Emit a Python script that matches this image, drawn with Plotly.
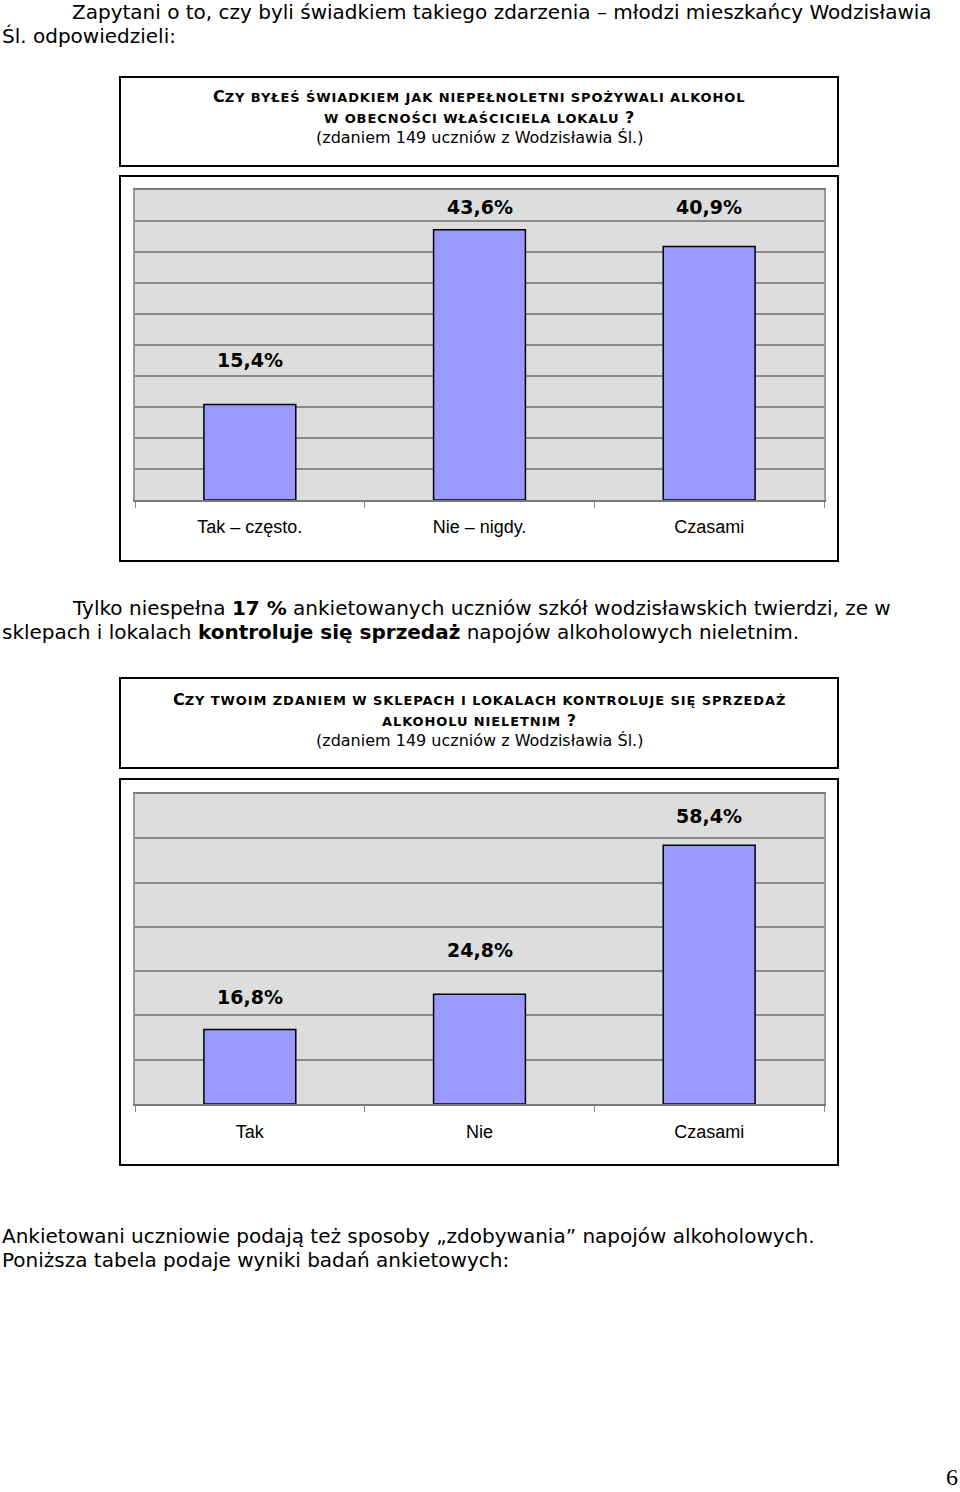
import plotly.graph_objects as go

W, H = 960, 1492

# ---- data ----
cats1 = ["Tak – często.", "Nie – nigdy.", "Czasami"]
vals1 = [15.4, 43.6, 40.9]
label_y1 = [22.6, 47.3, 47.3]

cats2 = ["Tak", "Nie", "Czasami"]
vals2 = [16.8, 24.8, 58.4]
label_y2 = [24.1, 34.7, 65.0]

BODY_FONT = "DejaVu Sans, Verdana"
ARIAL = "Liberation Sans, Arial"
BAR_COLOR = "#9999FF"
PLOT_BG = "#DDDDDD"
GRID = "#8A8A8A"


def px(x):
    return x / W


def py(y):
    return 1 - y / H


def fmt(v):
    return f"{v:.1f}".replace(".", ",") + "%"


fig = go.Figure()
fig.add_trace(go.Bar(x=cats1, y=vals1, xaxis="x", yaxis="y",
                     marker=dict(color=BAR_COLOR, line=dict(color="black", width=1.5)),
                     showlegend=False, hoverinfo="skip"))
fig.add_trace(go.Bar(x=cats2, y=vals2, xaxis="x2", yaxis="y2",
                     marker=dict(color=BAR_COLOR, line=dict(color="black", width=1.5)),
                     showlegend=False, hoverinfo="skip"))


def xax(standoff, anchor):
    return dict(domain=[px(135), px(824)], anchor=anchor,
                showline=True, linecolor="#7A7A7A", linewidth=1.5, mirror=True,
                ticks="outside", tickson="boundaries", ticklen=6, tickcolor="#8A8A8A",
                showgrid=False, ticklabelstandoff=standoff,
                tickfont=dict(family=ARIAL, size=18, color="black"))


ycommon = dict(showline=True, linecolor="#9A9A9A", linewidth=1.5, mirror=True,
               showticklabels=False, ticks="", showgrid=True, gridcolor=GRID,
               gridwidth=1.5, zeroline=False, fixedrange=True)

fig.update_layout(
    width=W, height=H, margin=dict(l=0, r=0, t=0, b=0),
    paper_bgcolor="white", plot_bgcolor=PLOT_BG, bargap=0.6,
    xaxis=xax(10, "y"),
    yaxis=dict(domain=[py(500), py(190)], anchor="x", range=[0, 50], dtick=5, **ycommon),
    xaxis2=xax(11, "y2"),
    yaxis2=dict(domain=[py(1104), py(794)], anchor="x2", range=[0, 70], dtick=10, **ycommon),
)

ann = []
# bar value labels
for c, v, ly in zip(cats1, vals1, label_y1):
    ann.append(dict(x=c, y=ly, xref="x", yref="y", text=f"<b>{fmt(v)}</b>", showarrow=False,
                    font=dict(family=BODY_FONT, size=19, color="black"), yanchor="middle"))
for c, v, ly in zip(cats2, vals2, label_y2):
    ann.append(dict(x=c, y=ly, xref="x2", yref="y2", text=f"<b>{fmt(v)}</b>", showarrow=False,
                    font=dict(family=BODY_FONT, size=19, color="black"), yanchor="middle"))


def body(text, x, y):
    ann.append(dict(x=px(x), y=py(y), xref="paper", yref="paper", text=text, showarrow=False,
                    xanchor="left", yanchor="middle",
                    font=dict(family=BODY_FONT, size=20, color="black")))


body("Zapytani o to, czy byli świadkiem takiego zdarzenia – młodzi mieszkańcy Wodzisławia", 70, 12)
body("Śl. odpowiedzieli:", 0, 36)
body("Tylko niespełna <b>17 %</b> ankietowanych uczniów szkół wodzisławskich twierdzi, ze w", 70, 608)
body("sklepach i lokalach <b>kontroluje się sprzedaż</b> napojów alkoholowych nieletnim.", 0, 632)
body("Ankietowani uczniowie podają też sposoby „zdobywania” napojów alkoholowych.", 0, 1236)
body("Poniższa tabela podaje wyniki badań ankietowych:", 0, 1260)

BIG = "font-size:16px"
SMALL = "font-size:13px;letter-spacing:0.9px"


def smallcaps(text, first_big=True, qmark=True):
    s = text.upper()
    out = ""
    if first_big:
        out += f"<span style='{BIG}'>{s[0]}</span>"
        s = s[1:]
    out += f"<span style='{SMALL}'>{s}</span>"
    if qmark:
        out += f"<span style='{BIG}'> ?</span>"
    return "<b>" + out + "</b>"


def title(text, y, size=16):
    ann.append(dict(x=px(479), y=py(y), xref="paper", yref="paper", text=text, showarrow=False,
                    xanchor="center", yanchor="middle",
                    font=dict(family=BODY_FONT, size=size, color="black")))


title(smallcaps("Czy byłeś świadkiem jak niepełnoletni spożywali alkohol", True, False), 97)
title(smallcaps("w obecności właściciela lokalu", False, True), 118)
title("(zdaniem 149 uczniów z Wodzisławia Śl.)", 138)
title(smallcaps("Czy twoim zdaniem w sklepach i lokalach kontroluje się sprzedaż", True, False), 699)
title(smallcaps("alkoholu nieletnim", False, True), 720)
title("(zdaniem 149 uczniów z Wodzisławia Śl.)", 740)

ann.append(dict(x=px(960), y=py(1492), xref="paper", yref="paper", text="6", showarrow=False,
                xanchor="right", yanchor="bottom",
                font=dict(family="Liberation Serif, Times New Roman", size=24, color="black")))

fig.update_layout(annotations=ann)

shapes = []
for (x0, y0, x1, y1) in [(120, 77, 838, 166), (120, 176, 838, 561),
                         (120, 678, 838, 768), (120, 779, 838, 1165)]:
    shapes.append(dict(type="rect", xref="paper", yref="paper",
                       x0=px(x0), x1=px(x1), y0=py(y1), y1=py(y0),
                       line=dict(color="black", width=2), fillcolor="rgba(0,0,0,0)", layer="below"))
fig.update_layout(shapes=shapes)

fig.write_html("out.html")
